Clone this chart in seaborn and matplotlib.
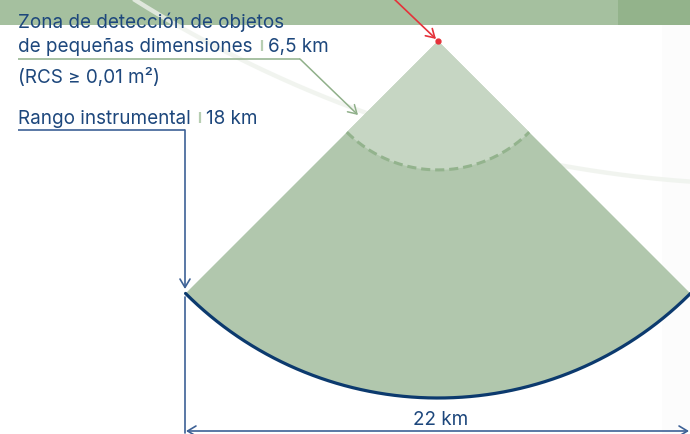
import numpy as np
import pandas as pd
import matplotlib
matplotlib.use("Agg")
import matplotlib.pyplot as plt
import seaborn as sns

# ---- data ----
outer_range_km = 18.0          # instrumental range
inner_range_km = 6.5           # small-object detection zone
beam_half_angle_deg = 45.0     # half opening of the sector
width_label = "22 km"
zone_lines = ["Zona de detección de objetos", "de pequeñas dimensiones"]
zone_value = "6,5 km"
zone_note = "(RCS ≥ 0,01 m²)"
range_label = "Rango instrumental"
range_value = "18 km"

# ---- style ----
sns.set_theme(style="white")
plt.rcParams["font.family"] = ["Inter", "DejaVu Sans"]

TEXT = "#1d477c"
NAVY = "#0c3a6e"
BLUE_LINE = "#3d6196"
GREEN_LINE = "#90b08a"
SEP = "#b7ceb2"
OUTER_FILL = "#b1c7ad"
INNER_FILL = "#c6d6c3"
DASH = "#93b38d"
RED = "#e5323a"

W, H = 690, 435
fig = plt.figure(figsize=(W / 100, H / 100), dpi=100)
ax = fig.add_axes([0, 0, 1, 1])
ax.set_xlim(0, W)
ax.set_ylim(H, 0)
ax.axis("off")

# canvas placement of the sector
apex = np.array([438.0, 42.0])
px_per_km = 357.0 / outer_range_km

# top band
ax.add_patch(plt.Rectangle((0, 0), 618, 26, color="#a5c09f", lw=0, zorder=1))
ax.add_patch(plt.Rectangle((618, 0), W - 618, 26, color="#93b38b", lw=0, zorder=1))
ax.add_patch(plt.Rectangle((662, 26), W - 662, H - 26, color="#fcfcfc", lw=0, zorder=0))

# faint orbit curve (decoration)
cx, cy, cr = 775.0, -1016.0, 1201.6
xs = np.linspace(100, W, 200)
ys = cy + np.sqrt(cr ** 2 - (xs - cx) ** 2)
ax.plot(xs, ys, color="#eef2ec", lw=3.2, alpha=0.8, zorder=2, solid_capstyle="butt")


def arc_points(r_km, n=200):
    th = np.radians(np.linspace(-beam_half_angle_deg, beam_half_angle_deg, n))
    r = r_km * px_per_km
    return apex[0] + r * np.sin(th), apex[1] + r * np.cos(th)


# sectors
ox, oy = arc_points(outer_range_km)
ax.fill(np.r_[apex[0], ox], np.r_[apex[1], oy], color=OUTER_FILL, lw=0, zorder=3)
ix, iy = arc_points(inner_range_km)
ax.fill(np.r_[apex[0], ix], np.r_[apex[1], iy], color=INNER_FILL, lw=0, zorder=4)

# arcs through seaborn
outer_df = pd.DataFrame({"x": ox, "y": oy})
inner_df = pd.DataFrame({"x": ix, "y": iy})
sns.lineplot(data=outer_df, x="x", y="y", sort=False, estimator=None, ax=ax,
             color=NAVY, lw=2.3, zorder=6)
sns.lineplot(data=inner_df, x="x", y="y", sort=False, estimator=None, ax=ax,
             color=DASH, lw=2.2, zorder=5, dashes=False, linestyle=(0, (3, 1.6)))
ax.set_xlim(0, W)
ax.set_ylim(H, 0)
ax.set_xlabel("")
ax.set_ylabel("")

# red apex arrow
ax.annotate("", xy=(apex[0] - 2, apex[1] - 2), xytext=(392, -2),
            arrowprops=dict(arrowstyle="->,head_length=0.5,head_width=0.3",
                            color=RED, lw=1.2, shrinkA=0, shrinkB=0), zorder=7)
ax.plot([apex[0]], [apex[1]], "o", color=RED, ms=3.5, zorder=8)

FS = 13.6
fig.canvas.draw()
renderer = fig.canvas.get_renderer()
inv = ax.transData.inverted()


def right_edge(t):
    bb = t.get_window_extent(renderer)
    return inv.transform((bb.x1, bb.y0))[0]


def labelled(x, y, main, value):
    t = ax.text(x, y, main, fontsize=FS, color=TEXT, va="baseline", ha="left", zorder=10)
    xr = right_edge(t)
    sx = xr + 9
    ax.plot([sx, sx], [y - 11, y], color=SEP, lw=1.6, zorder=10, solid_capstyle="butt")
    ax.text(sx + 6, y, value, fontsize=FS, color=TEXT, va="baseline", ha="left", zorder=10)


ax.text(18, 28, zone_lines[0], fontsize=FS, color=TEXT, va="baseline", ha="left", zorder=10)
labelled(18, 52, zone_lines[1], zone_value)
ax.text(18, 83, zone_note, fontsize=FS, color=TEXT, va="baseline", ha="left", zorder=10)
labelled(18, 124, range_label, range_value)

# green leader
ax.plot([18, 300], [60, 60], color=GREEN_LINE, lw=1.1, zorder=9, solid_capstyle="butt")
ax.annotate("", xy=(358, 116), xytext=(300, 60),
            arrowprops=dict(arrowstyle="->,head_length=0.5,head_width=0.3",
                            color=GREEN_LINE, lw=1.1, shrinkA=0, shrinkB=0), zorder=9)

# blue leader
ax.plot([18, 185], [131, 131], color=BLUE_LINE, lw=1.2, zorder=9, solid_capstyle="butt")
ax.annotate("", xy=(185, 290), xytext=(185, 131),
            arrowprops=dict(arrowstyle="->,head_length=0.5,head_width=0.3",
                            color=BLUE_LINE, lw=1.2, shrinkA=0, shrinkB=0), zorder=9)

# dimension lines
ax.plot([185, 185], [298, 434], color=BLUE_LINE, lw=1.2, zorder=9)
ax.annotate("", xy=(186, 432), xytext=(689, 432),
            arrowprops=dict(arrowstyle="<->,head_length=0.5,head_width=0.3",
                            color=BLUE_LINE, lw=1.2, shrinkA=0, shrinkB=0), zorder=9)
ax.text(441, 425, width_label, fontsize=FS, color=TEXT, va="baseline", ha="center", zorder=10)

fig.savefig("out.png", dpi=100)
